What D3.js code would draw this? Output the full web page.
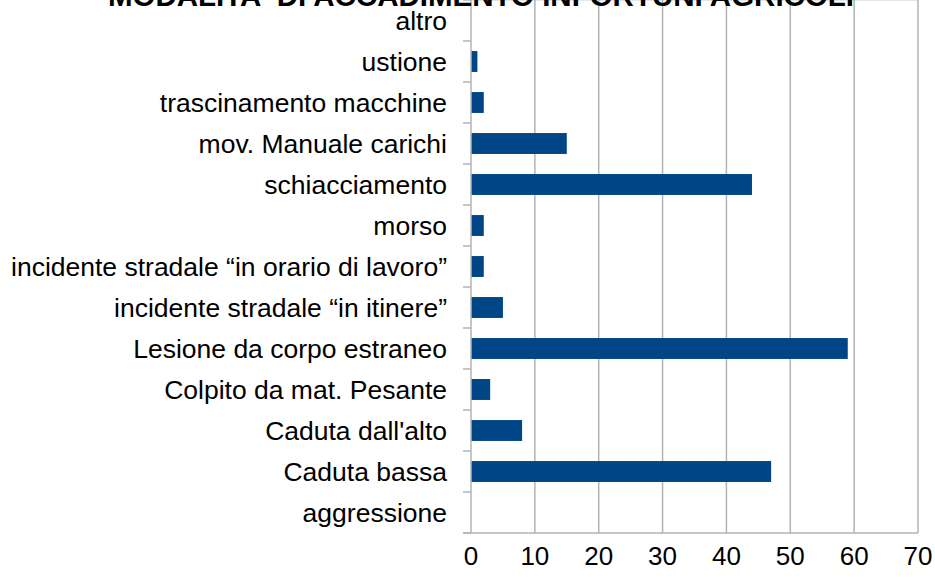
<!DOCTYPE html>
<html>
<head>
<meta charset="utf-8">
<script src="https://cdn.jsdelivr.net/npm/d3@7"></script>
<style>
  body { margin: 0; background: #fff; }
  svg { display: block; font-family: "Liberation Sans", Arial, sans-serif; }
</style>
</head>
<body>
<div id="chart"></div>
<script>
// categories top to bottom, as they appear on the chart
var categories = [
  "altro",
  "ustione",
  "trascinamento macchine",
  "mov. Manuale carichi",
  "schiacciamento",
  "morso",
  "incidente stradale \u201cin orario di lavoro\u201d",
  "incidente stradale \u201cin itinere\u201d",
  "Lesione da corpo estraneo",
  "Colpito da mat. Pesante",
  "Caduta dall'alto",
  "Caduta bassa",
  "aggressione"
];
var values = [0, 1, 2, 15, 44, 2, 2, 5, 59, 3, 8, 47, 0];
var xTicks = [0, 10, 20, 30, 40, 50, 60, 70];
var title = "MODALITA' DI ACCADIMENTO INFORTUNI AGRICOLI";

var svgWidth = 935;
var svgHeight = 577;
var margin = { top: 0, right: 17, bottom: 44, left: 471 };
var width = svgWidth - margin.left - margin.right;
var height = svgHeight - margin.top - margin.bottom;

var svg = d3.select("#chart")
  .append("svg")
  .attr("width", svgWidth)
  .attr("height", svgHeight);

var chartGroup = svg.append("g")
  .attr("transform", `translate(${margin.left}, ${margin.top})`);

var xScale = d3.scaleLinear().domain([0, 70]).range([0, width]);
var yScale = d3.scaleBand().domain(categories).range([0, height]).paddingInner(0.49).paddingOuter(0.245);
var yBand = d3.scaleBand().domain(categories).range([0, height]);

// top border (light)
chartGroup.append("line")
  .attr("x1", 0).attr("x2", width)
  .attr("y1", 0.5).attr("y2", 0.5)
  .attr("stroke", "#e6e6e6");

// vertical gridlines
chartGroup.selectAll(".grid")
  .data(xTicks.slice(1))
  .enter()
  .append("line")
  .attr("x1", d => xScale(d)).attr("x2", d => xScale(d))
  .attr("y1", 0).attr("y2", height)
  .attr("stroke", "#b3b3b3")
  .attr("stroke-width", 1.5);

// bars
chartGroup.selectAll("rect")
  .data(values)
  .enter()
  .append("rect")
  .attr("x", 0)
  .attr("y", (d, i) => yScale(categories[i]))
  .attr("width", d => xScale(d))
  .attr("height", yScale.bandwidth())
  .attr("fill", "#004586");

// category ticks (band boundaries)
var bounds = categories.map(c => yBand(c)).concat([height]);
chartGroup.selectAll(".ytick")
  .data(bounds)
  .enter()
  .append("line")
  .attr("x1", -8).attr("x2", 0)
  .attr("y1", d => d).attr("y2", d => d)
  .attr("stroke", "#b3b3b3")
  .attr("stroke-width", 1.5);

// axis lines
chartGroup.append("line")
  .attr("x1", 0).attr("x2", 0)
  .attr("y1", 0).attr("y2", height)
  .attr("stroke", "#b3b3b3").attr("stroke-width", 1.5);
chartGroup.append("line")
  .attr("x1", -8).attr("x2", width)
  .attr("y1", height).attr("y2", height)
  .attr("stroke", "#b3b3b3").attr("stroke-width", 1.5);

// category labels
chartGroup.selectAll(".ylabel")
  .data(categories)
  .enter()
  .append("text")
  .attr("x", -24)
  .attr("y", d => yBand(d) + yBand.bandwidth() / 2)
  .attr("dy", "0.35em")
  .attr("text-anchor", "end")
  .attr("font-size", "26.5px")
  .attr("fill", "#000")
  .text(d => d);

// x tick labels
chartGroup.selectAll(".xlabel")
  .data(xTicks)
  .enter()
  .append("text")
  .attr("x", d => xScale(d))
  .attr("y", height + 23)
  .attr("dy", "0.35em")
  .attr("text-anchor", "middle")
  .attr("font-size", "26px")
  .attr("fill", "#000")
  .text(d => d);

// title (clipped at the top in the original)
svg.append("text")
  .attr("x", 481)
  .attr("y", 6)
  .attr("text-anchor", "middle")
  .attr("font-size", "29.5px")
  .attr("font-weight", "bold")
  .attr("fill", "#000")
  .text(title);
</script>
</body>
</html>
